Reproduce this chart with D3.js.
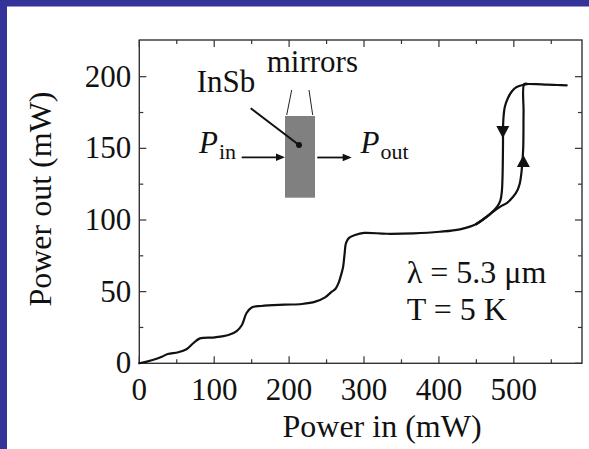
<!DOCTYPE html>
<html>
<head>
<meta charset="utf-8">
<script src="https://cdn.jsdelivr.net/npm/d3@7"></script>
<style>
  html, body { margin: 0; padding: 0; background: #fff; }
  svg { display: block; }
  text { font-family: "Liberation Serif", "Times New Roman", serif; fill: #111; }
</style>
</head>
<body>
<svg id="chart"></svg>
<script>
const width = 589, height = 449;

// axis ticks
const xTicks = [0, 100, 200, 300, 400, 500];
const xMinor = [50, 150, 250, 350, 450, 550];
const yTicks = [0, 50, 100, 150, 200];
const yMinor = [25, 75, 125, 175];

// low-power staircase, shared by both sweeps (Power in, Power out)
const sharedSweep = [[0,0],[10,1.2],[21,2.8],[30,4.6],[38,6.5],[52,7.7],[63,9.8],[72,14],[81,17.4],
  [101,18.1],[119,19.7],[130,22.5],[137,26.7],[143,34.9],[150,39],[163,40],[194,40.9],[217,41.4],
  [235,43],[248,46],[257,50],[262,52],[266,56],[269,61],[272,67],[274,76],[276,84],[280,87.5],
  [288,89.5],[300,91],[330,90.4],[366,90.7],[401,91.8],[428,93.5],[450,97.2],[464,102.3]];
// increasing power branch
const upSweep = [[450,97.2],[464,102.3],[473,106],[482,109.3],[491,112],[499,116.2],[505,121],[508,125.6],
  [510.5,134.9],[512.5,150],[513,175],[514,194.9],[519,194.9]];
// decreasing power branch
const downSweep = [[450,97.2],[464,102.3],[472,106],[478,109.5],[482,113.5],[484,120],[485,132],[485.5,150],[486,170],
  [488,179],[492,185],[497,189.5],[502,192.2],[508,193.7],[519,194.9]];
// saturated top
const topSweep = [[514,194.9],[519,194.9],[530,194.8],[544,194.4],[558,194.2],[570.6,194]];
// direction arrows: [Power in, tip Power out, base Power out]
const sweepArrows = [[485.3,157,165.6],[512.7,145.3,137]];

const frame = {left: 139.3, right: 582, top: 40, bottom: 363.3};

const svg = d3.select('#chart').attr('width', width).attr('height', height);

svg.append('rect').attr('width', width).attr('height', height).attr('fill', '#fff');
svg.append('rect').attr('x', 0).attr('y', 0).attr('width', width).attr('height', 6.5).attr('fill', '#33339a');
svg.append('rect').attr('x', 0).attr('y', 0).attr('width', 7).attr('height', height).attr('fill', '#33339a');

const x = d3.scaleLinear().domain([0, 591]).range([frame.left, frame.right]);
const y = d3.scaleLinear().domain([0, 225.6]).range([frame.bottom, frame.top]);

const axisColor = '#333';

// ticks on all four sides, pointing inward
const tickG = svg.append('g').attr('stroke', axisColor).attr('stroke-width', 1.2);
const addX = (vals, len) => vals.forEach(v => {
  tickG.append('line').attr('x1', x(v)).attr('x2', x(v)).attr('y1', frame.bottom).attr('y2', frame.bottom - len);
  tickG.append('line').attr('x1', x(v)).attr('x2', x(v)).attr('y1', frame.top).attr('y2', frame.top + len);
});
const addY = (vals, len) => vals.forEach(v => {
  tickG.append('line').attr('x1', frame.left).attr('x2', frame.left + len).attr('y1', y(v)).attr('y2', y(v));
  tickG.append('line').attr('x1', frame.right).attr('x2', frame.right - len).attr('y1', y(v)).attr('y2', y(v));
});
addX(xTicks, 7); addX(xMinor, 4);
addY(yTicks, 7); addY(yMinor, 4);

svg.append('rect')
  .attr('x', frame.left).attr('y', frame.top)
  .attr('width', frame.right - frame.left).attr('height', frame.bottom - frame.top)
  .attr('fill', 'none').attr('stroke', axisColor).attr('stroke-width', 1.4);

svg.append('g').selectAll('text').data(xTicks).join('text')
  .attr('x', d => x(d)).attr('y', frame.bottom + 37)
  .attr('text-anchor', 'middle').attr('font-size', 31)
  .text(d => d);

svg.append('g').selectAll('text').data(yTicks).join('text')
  .attr('x', frame.left - 8).attr('y', d => y(d) + 10)
  .attr('text-anchor', 'end').attr('font-size', 31)
  .text(d => d);

svg.append('text')
  .attr('x', 382).attr('y', 437)
  .attr('text-anchor', 'middle').attr('font-size', 32)
  .text('Power in (mW)');

svg.append('text')
  .attr('transform', 'translate(51,199) rotate(-90)')
  .attr('text-anchor', 'middle').attr('font-size', 32)
  .text('Power out (mW)');

// data curve
const line = d3.line().x(d => x(d[0])).y(d => y(d[1])).curve(d3.curveCatmullRom.alpha(0.5));
[sharedSweep, upSweep, downSweep, topSweep].forEach(s => {
  svg.append('path').datum(s)
    .attr('d', line)
    .attr('fill', 'none').attr('stroke', '#111')
    .attr('stroke-width', 2.2).attr('stroke-linejoin', 'round').attr('stroke-linecap', 'round');
});

svg.append('g').selectAll('path').data(sweepArrows).join('path')
  .attr('d', d => `M${x(d[0])},${y(d[1])}L${x(d[0]) - 6.5},${y(d[2])}L${x(d[0]) + 6.5},${y(d[2])}Z`)
  .attr('fill', '#111');

// sample sketch inset
const inset = svg.append('g');
inset.append('rect').attr('x', 285).attr('y', 116).attr('width', 30).attr('height', 81.7).attr('fill', '#808080');
inset.append('line').attr('x1', 286.7).attr('y1', 115).attr('x2', 291.7).attr('y2', 90).attr('stroke', '#222').attr('stroke-width', 1);
inset.append('line').attr('x1', 312.7).attr('y1', 115).attr('x2', 309).attr('y2', 90).attr('stroke', '#222').attr('stroke-width', 1);
inset.append('line').attr('x1', 250.7).attr('y1', 108.3).attr('x2', 299).attr('y2', 145).attr('stroke', '#111').attr('stroke-width', 2);
inset.append('circle').attr('cx', 299).attr('cy', 145).attr('r', 3).attr('fill', '#111');

inset.append('text').attr('x', 196.7).attr('y', 91.7).attr('font-size', 31).text('InSb');
inset.append('text').attr('x', 266.7).attr('y', 71.7).attr('font-size', 31).text('mirrors');

const arrow = (x1, x2, yy) => {
  inset.append('line').attr('x1', x1).attr('x2', x2 - 7).attr('y1', yy).attr('y2', yy).attr('stroke', '#111').attr('stroke-width', 1.8);
  inset.append('path').attr('d', `M${x2},${yy}L${x2 - 9},${yy - 3.8}L${x2 - 9},${yy + 3.8}Z`).attr('fill', '#111');
};
arrow(241.7, 285, 157.3);
arrow(317.3, 351.7, 157.5);

const pin = inset.append('text').attr('x', 199).attr('y', 153.3).attr('font-size', 31);
pin.append('tspan').attr('font-style', 'italic').text('P');
pin.append('tspan').attr('font-size', 22).attr('dy', 6).attr('dx', 1).text('in');

const pout = inset.append('text').attr('x', 360.5).attr('y', 153.3).attr('font-size', 31);
pout.append('tspan').attr('font-style', 'italic').text('P');
pout.append('tspan').attr('font-size', 22).attr('dy', 6).attr('dx', 1).text('out');

svg.append('text').attr('x', 406.7).attr('y', 283.3).attr('font-size', 32).text('λ = 5.3 μm');
svg.append('text').attr('x', 406.7).attr('y', 320).attr('font-size', 32).text('T = 5 K');
</script>
</body>
</html>
